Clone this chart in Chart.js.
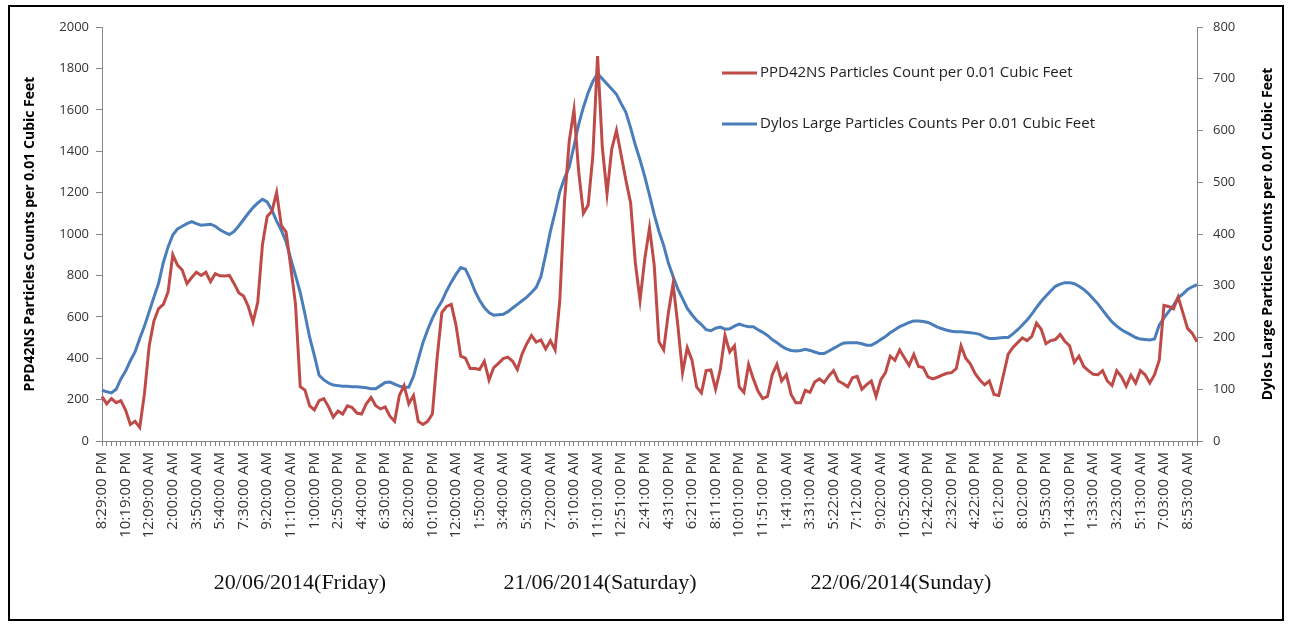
<!DOCTYPE html>
<html>
<head>
<meta charset="utf-8">
<script src="https://cdn.jsdelivr.net/npm/chart.js@4.4.1/dist/chart.umd.min.js"></script>
<style>
  body { margin: 0; background: #fff; }
  #wrap { position: relative; width: 1289px; height: 625px; overflow: hidden; }
  #frame { position: absolute; left: 8px; top: 5px; width: 1276px; height: 616px; border: 2px solid #000; box-sizing: border-box; pointer-events: none; }
  .day { position: absolute; top: 569px; transform: translateX(-50%); font-family: "Liberation Serif", serif; font-size: 22px; color: #111; white-space: nowrap; }
</style>
</head>
<body>
<div id="wrap">
  <canvas id="chart" width="1289" height="625"></canvas>
  <div id="frame"></div>
  <div class="day" style="left:300px">20/06/2014(Friday)</div>
  <div class="day" style="left:600px">21/06/2014(Saturday)</div>
  <div class="day" style="left:901px">22/06/2014(Sunday)</div>
</div>
<script>
// tick labels, one every 5 readings
let tickLabels = ['8:29:00 PM','10:19:00 PM','12:09:00 AM','2:00:00 AM','3:50:00 AM','5:40:00 AM','7:30:00 AM','9:20:00 AM',
  '11:10:00 AM','1:00:00 PM','2:50:00 PM','4:40:00 PM','6:30:00 PM','8:20:00 PM','10:10:00 PM','12:00:00 AM',
  '1:50:00 AM','3:40:00 AM','5:30:00 AM','7:20:00 AM','9:10:00 AM','11:01:00 AM','12:51:00 PM','2:41:00 PM',
  '4:31:00 PM','6:21:00 PM','8:11:00 PM','10:01:00 PM','11:51:00 PM','1:41:00 AM','3:31:00 AM','5:22:00 AM',
  '7:12:00 AM','9:02:00 AM','10:52:00 AM','12:42:00 PM','2:32:00 PM','4:22:00 PM','6:12:00 PM','8:02:00 PM',
  '9:53:00 PM','11:43:00 PM','1:33:00 AM','3:23:00 AM','5:13:00 AM','7:03:00 AM','8:53:00 AM'];

let ppdCounts = [214,180,205,185,195,150,80,95,65,230,
  460,580,640,660,720,900,850,826,760,790,
  815,800,815,770,808,798,797,800,760,715,
  700,650,575,670,950,1085,1110,1200,1040,1010,
  840,660,262,246,170,150,195,205,165,115,
  145,130,170,162,135,130,180,210,170,155,
  165,120,95,220,268,180,220,95,80,95,
  130,400,620,650,660,560,410,400,350,350,
  345,385,295,355,375,398,405,385,345,420,
  470,510,478,488,445,485,440,680,1160,1450,
  1600,1300,1100,1140,1380,1860,1420,1195,1410,1500,
  1380,1260,1150,860,680,880,1030,850,480,440,
  620,760,560,330,450,390,260,232,340,343,
  250,345,510,430,460,262,235,370,300,240,
  205,215,320,370,290,320,225,185,185,245,
  235,285,300,282,314,340,290,278,262,305,
  312,250,272,290,215,295,330,410,390,440,
  402,365,418,360,355,310,300,308,318,327,
  330,350,460,400,372,325,295,272,290,225,
  220,320,420,452,475,498,485,505,570,540,
  470,485,490,515,482,460,380,410,360,340,
  322,320,340,290,268,340,310,265,318,280,
  340,320,280,320,390,655,650,638,695,620,
  544,520,480];

let dylosCounts = [98,95,93,100,120,135,155,172,198,222,
  250,278,305,345,375,398,410,415,420,424,
  420,417,418,419,415,408,403,399,405,416,
  428,440,451,460,467,462,446,425,407,385,
  352,320,287,245,200,165,127,118,112,108,
  107,106,106,105,105,104,103,101,101,107,
  113,114,110,106,104,104,125,158,190,215,
  237,255,270,290,307,322,335,332,313,290,
  272,258,248,243,244,245,250,257,264,271,
  278,287,297,318,360,405,442,482,508,530,
  570,612,645,673,695,710,700,690,680,670,
  652,635,605,572,543,511,475,438,405,378,
  344,318,294,275,256,244,233,225,215,213,
  218,220,216,217,222,226,223,221,221,215,
  210,204,196,190,183,178,175,174,175,177,
  175,172,169,169,174,179,184,189,190,190,
  190,188,185,185,190,196,202,209,215,221,
  225,229,232,232,231,229,225,220,217,214,
  212,211,211,210,209,208,206,201,198,198,
  199,200,200,207,215,224,234,245,258,270,
  280,290,299,303,306,306,304,299,293,285,
  275,265,253,241,230,222,215,210,205,200,
  197,196,195,197,224,238,250,262,277,284,
  293,298,302];

let seriesNames = ['PPD42NS Particles Count per 0.01 Cubic Feet', 'Dylos Large Particles Counts Per 0.01 Cubic Feet'];
let axisTitles = ['PPD42NS Particles Counts per 0.01 Cubic Feet', 'Dylos Large Particles Counts per 0.01 Cubic Feet'];

let labels = ppdCounts.map((v, i) => i % 5 == 0 ? tickLabels[i / 5] : '');

let axisGray = '#868686';
let font = 'Open Sans';

// legend drawn inside the plot, and the right axis title reading upward
let extras = {
  id: 'extras',
  afterDraw(chart) {
    let ctx = chart.ctx;
    ctx.save();
    chart.data.datasets.forEach((ds, i) => {
      let y = 73 + i * 51;
      ctx.strokeStyle = ds.borderColor;
      ctx.lineWidth = 3;
      ctx.beginPath();
      ctx.moveTo(722, y);
      ctx.lineTo(757, y);
      ctx.stroke();
      ctx.fillStyle = '#222';
      ctx.font = '15px "' + font + '"';
      ctx.textBaseline = 'middle';
      ctx.fillText(ds.label, 760, y);
    });
    ctx.translate(1268, 234);
    ctx.rotate(-Math.PI / 2);
    ctx.font = 'bold 14px "' + font + '"';
    ctx.textAlign = 'center';
    ctx.textBaseline = 'middle';
    ctx.fillStyle = '#000';
    ctx.fillText(axisTitles[1], 0, 0);
    ctx.restore();
  }
};

new Chart(document.getElementById('chart'), {
  type: 'line',
  data: {
    labels: labels,
    datasets: [{
      label: seriesNames[0],
      data: ppdCounts,
      borderColor: '#BE4B48',
      borderWidth: 3,
      pointRadius: 0,
      yAxisID: 'y'
    }, {
      label: seriesNames[1],
      data: dylosCounts,
      borderColor: '#4A7EBB',
      borderWidth: 3,
      pointRadius: 0,
      yAxisID: 'y1'
    }]
  },
  options: {
    responsive: false,
    animation: false,
    devicePixelRatio: 1,
    layout: { padding: { top: 27, left: 0, right: 0, bottom: 0 } },
    plugins: { legend: { display: false }, tooltip: { enabled: false } },
    scales: {
      x: {
        grid: { drawOnChartArea: false, color: axisGray, tickLength: 5 },
        border: { color: axisGray },
        ticks: {
          autoSkip: false, minRotation: 90, maxRotation: 90, padding: 6,
          color: '#333', font: { family: font, size: 15 },
          callback: (v, i) => labels[i]
        },
        afterFit: s => { s.height = 184; }
      },
      y: {
        position: 'left', min: 0, max: 2000,
        grid: { drawOnChartArea: false, color: axisGray, tickLength: 6 },
        border: { color: axisGray },
        ticks: { stepSize: 200, padding: 7, color: '#333', font: { family: font, size: 13 }, callback: v => String(v) },
        title: { display: true, text: axisTitles[0], color: '#000', font: { family: font, size: 14, weight: 'bold' }, padding: { top: 22, bottom: 0 } },
        afterFit: s => { s.width = 102; }
      },
      y1: {
        position: 'right', min: 0, max: 800,
        grid: { drawOnChartArea: false, color: axisGray, tickLength: 6 },
        border: { color: axisGray },
        ticks: { stepSize: 100, padding: 10, color: '#333', font: { family: font, size: 13 }, callback: v => String(v) },
        afterFit: s => { s.width = 92; }
      }
    }
  },
  plugins: [extras]
});
</script>
</body>
</html>
